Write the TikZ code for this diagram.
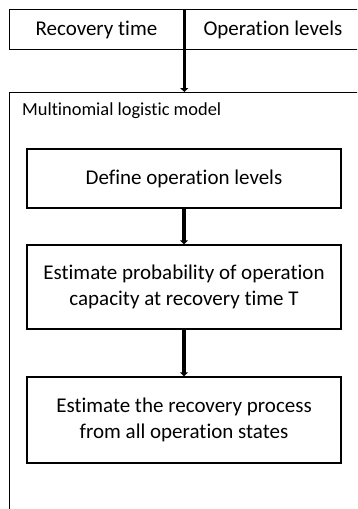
\documentclass[tikz,border=0pt]{standalone}
\usepackage{fontspec}
\setmainfont{Carlito}[Ligatures=NoCommon]
\usetikzlibrary{arrows.meta}
\begin{document}
\begin{tikzpicture}[x=1pt,y=-1pt,
  box/.style={draw, line width=1.3pt, inner sep=0pt, align=center,
    font=\fontsize{21}{26.7}\selectfont},
  frame/.style={draw, line width=1.3pt, inner sep=0pt},
  flow/.style={line width=3.5pt, -{Triangle[length=4pt,width=8pt]}}]
\useasboundingbox (0,0) rectangle (357,509);
\clip (0,0) rectangle (357,509);
% top boxes
\node[box, anchor=north west, minimum width=174.5pt, minimum height=40pt] (rt) at (8.5,9) {Recovery time};
\node[box, anchor=north west, minimum width=176pt, minimum height=40pt] (ol) at (rt.north east) {Operation levels};
% outer frame (cropped)
\node[frame, anchor=north west, minimum width=380pt, minimum height=450pt] (model) at (9,92) {};
\node[anchor=west, inner sep=0pt, font=\fontsize{18.4}{22}\selectfont] (lbl) at (22,111) {Multinomial logistic model};
% inner steps
\node[box, minimum width=314pt, minimum height=59pt] (b1) at (184,178.5) {Define operation levels};
\node[box, minimum width=314pt, minimum height=84pt] (b2) at (184,287) {Estimate probability of operation\\capacity at recovery time T};
\node[box, minimum width=314pt, minimum height=86pt] (b3) at (184,420) {Estimate the recovery process\\from all operation states};
% connectors
\draw[flow] (rt.south east) -- (rt.south east |- model.north);
\draw[flow] (b1.south) -- (b2.north);
\draw[flow] (b2.south) -- (b3.north);
\end{tikzpicture}
\end{document}
